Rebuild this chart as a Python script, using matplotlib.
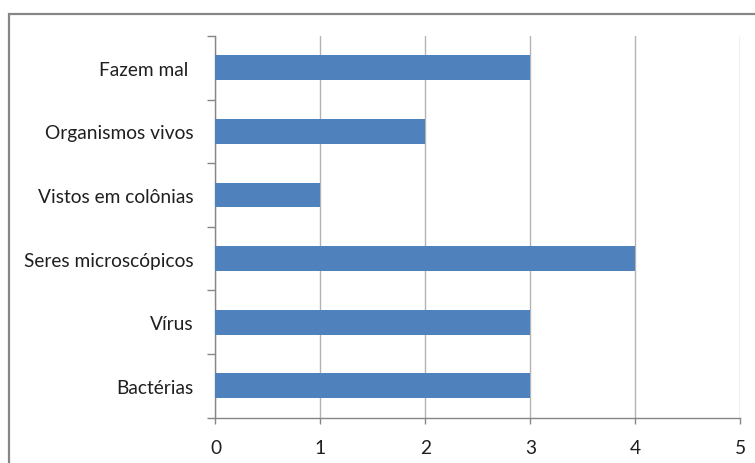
import matplotlib
matplotlib.use('agg')
import matplotlib.pyplot as plt
from matplotlib.patches import Rectangle
import numpy as np

# categories bottom -> top, as drawn on the chart
categories = ['Bactérias', 'Vírus', 'Seres microscópicos', 'Vistos em colônias',
              'Organismos vivos', 'Fazem mal ']
values = [3, 3, 4, 1, 2, 3]
x_ticks = [0, 1, 2, 3, 4, 5]

plt.rcParams['font.family'] = ['Lato', 'DejaVu Sans']

W, H = 755, 464
fig = plt.figure(figsize=(W / 100, H / 100), dpi=100)

# outer chart frame (runs off the right and bottom edge)
fig.patches.append(Rectangle((9 / W, -0.05), 1.1, 1.05 - 15 / H,
                             transform=fig.transFigure, fill=False,
                             edgecolor='#868686', linewidth=1.6))

left, right, top, bottom = 215.5, 740.5, 37, 418.7
ax = fig.add_axes([left / W, 1 - bottom / H, (right - left) / W, (bottom - top) / H])

y = np.arange(len(categories))
ax.barh(y, values, height=0.39, color='#4F81BD', zorder=3)

ax.set_xlim(0, 5)
ax.set_ylim(-0.5, len(categories) - 0.5)
ax.set_xticks(x_ticks)
ax.set_xticklabels([str(t) for t in x_ticks])
ax.xaxis.grid(True, color='#B3B3B3', linewidth=1.0, zorder=0)

# category boundaries as tick marks, labels centred on the bars
ax.set_yticks(np.arange(-0.5, len(categories), 1.0))
ax.set_yticklabels([])
ax.set_yticks(y, minor=True)
ax.set_yticklabels(categories, minor=True)
ax.tick_params(axis='y', which='major', direction='out', length=5.5,
               color='#868686', width=1)
ax.tick_params(axis='y', which='minor', length=0, pad=16,
               labelsize=13.8, labelcolor='#1f1f1f')
ax.tick_params(axis='x', direction='out', length=4.5, color='#868686', width=1,
               pad=10.5, labelsize=13.8, labelcolor='#1f1f1f')

for s in ['top', 'right']:
  ax.spines[s].set_visible(False)
for s in ['left', 'bottom']:
  ax.spines[s].set_color('#868686')
  ax.spines[s].set_linewidth(1.0)

plt.savefig('out.png', dpi=100)
plt.close()
